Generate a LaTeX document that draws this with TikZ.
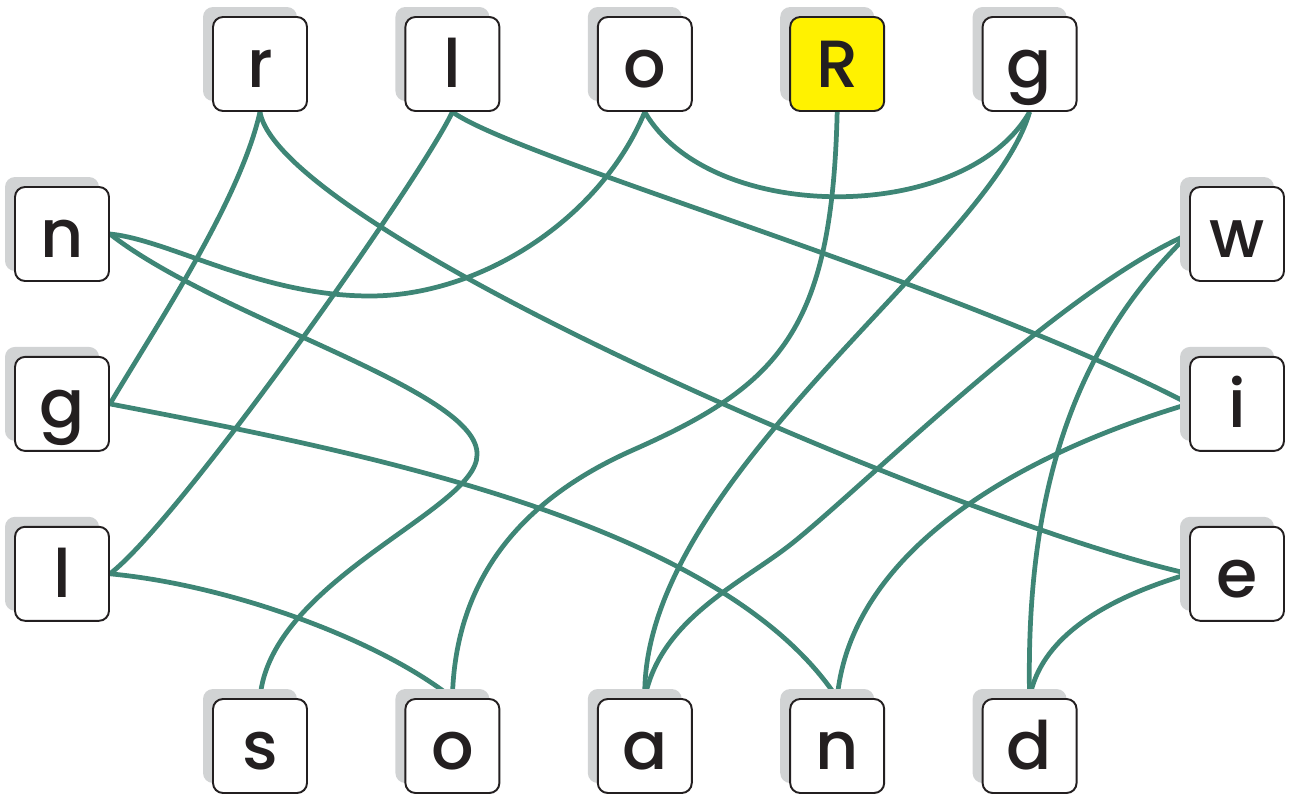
\documentclass[tikz,border=0pt]{standalone}
\usepackage{fontspec}
\setmainfont{Poppins}[UprightFont=* Medium]
\usetikzlibrary{positioning,shadows}
\pgfdeclarelayer{fond}
\pgfsetlayers{fond,main}

\begin{document}
\begin{tikzpicture}[x=0.02cm,y=-0.02cm,
  lettre/.style={draw=noir, line width=1.1pt, rounded corners=0.2cm, fill=white,
    minimum size=1.88cm, inner sep=0pt, text height=0.96cm, text depth=0pt,
    font=\fontsize{38}{40}\selectfont, text=noir,
    general shadow={fill=ombre, shadow xshift=-0.2cm, shadow yshift=0.2cm}},
  lien/.style={draw=vertlien, line width=2.7pt}]
  % Définition des couleurs
  \definecolor{noir}{RGB}{35,31,32}
  \definecolor{ombre}{RGB}{209,211,212}
  \definecolor{jaune}{RGB}{255,242,0}
  \definecolor{vertlien}{RGB}{62,134,118}

  \useasboundingbox (0,0) rectangle (1289,794);

  % --- Rangée du haut ---
  \node[lettre] (r) at (260,64) {r};
  \node[lettre, right=1.93cm of r] (lHaut) {l};
  \node[lettre, right=1.93cm of lHaut] (oHaut) {o};
  \node[lettre, fill=jaune, right=1.93cm of oHaut] (R) {R};
  \node[lettre, right=1.93cm of R] (gHaut) {g};

  % --- Colonne de gauche ---
  \node[lettre] (n) at (62,234) {n};
  \node[lettre, below=1.48cm of n] (gGauche) {g};
  \node[lettre, below=1.48cm of gGauche] (lGauche) {l};

  % --- Colonne de droite ---
  \node[lettre] (w) at (1237,234) {w};
  \node[lettre, below=1.48cm of w] (i) {i};
  \node[lettre, below=1.48cm of i] (e) {e};

  % --- Rangée du bas ---
  \node[lettre] (s) at (260,746) {s};
  \node[lettre, right=1.93cm of s] (oBas) {o};
  \node[lettre, right=1.93cm of oBas] (a) {a};
  \node[lettre, right=1.93cm of a] (nBas) {n};
  \node[lettre, right=1.93cm of nBas] (d) {d};

  % --- Liens (sous les cases) ---
  \begin{pgfonlayer}{fond}
    \draw[lien] (R.south) .. controls (832,330) and (780,385) .. (633,450)
      .. controls (520,500) and (455,580) .. (oBas.north);
    \draw[lien] (lGauche.east) .. controls (230,585) and (380,640) .. (oBas.north);
    \draw[lien] (lHaut.south) .. controls (420,180) and (180,520) .. (lGauche.east);
    \draw[lien] (lHaut.south) .. controls (520,160) and (950,280) .. (i.west);
    \draw[lien] (i.west) .. controls (1000,460) and (850,560) .. (nBas.north);
    \draw[lien] (gGauche.east) .. controls (350,450) and (720,520) .. (nBas.north);
    \draw[lien] (r.south) .. controls (240,200) and (160,320) .. (gGauche.east);
    \draw[lien] (r.south) .. controls (280,230) and (950,520) .. (e.west);
    \draw[lien] (e.west) .. controls (1100,600) and (1040,640) .. (d.north);
    \draw[lien] (w.west) .. controls (1080,340) and (1025,480) .. (d.north);
    \draw[lien] (w.west) .. controls (1060,290) and (860,490) .. (790,545)
      .. controls (740,584) and (660,620) .. (a.north);
    \draw[lien] (gHaut.south) .. controls (990,250) and (640,480) .. (a.north);
    \draw[lien] (oHaut.south) .. controls (710,225) and (965,225) .. (gHaut.south);
    \draw[lien] (oHaut.south) .. controls (600,220) and (480,296) .. (370,296)
      .. controls (260,296) and (170,240) .. (n.east);
    \draw[lien] (n.east) .. controls (220,320) and (480,390) .. (477,455)
      .. controls (477,510) and (270,580) .. (s.north);
  \end{pgfonlayer}
\end{tikzpicture}
\end{document}
